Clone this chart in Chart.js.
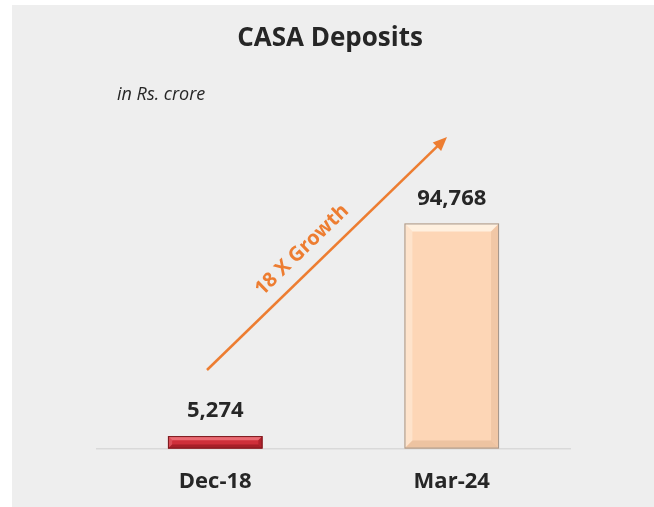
<!DOCTYPE html>
<html>
<head>
<meta charset="utf-8">
<script src="https://cdn.jsdelivr.net/npm/chart.js@4.4.1/dist/chart.umd.min.js"></script>
<style>
  html, body { margin: 0; padding: 0; background: #ffffff; }
  #wrap { width: 654px; height: 507px; }
</style>
</head>
<body>
<div id="wrap"><canvas id="casaChart" width="654" height="507"></canvas></div>
<script>
// Data
const categories = ['Dec-18', 'Mar-24'];
const casaValues = [5274, 94768];
const valueLabels = ['5,274', '94,768'];

const chartTitle = 'CASA Deposits';
const unitNote = 'in Rs. crore';
const growthNote = '18 X Growth';

const FONT = '"Open Sans", Lato, "DejaVu Sans", sans-serif';

// face / light edge / dark edge / outline per bar
const barStyles = [
    { face: '#cf2f3a', light: '#ea6a72', dark: '#8e151c', line: '#7a1a1e' },
    { face: '#fdd6b6', light: '#fff0df', dark: '#e3b592', line: '#a3968c' }
];

function bevelBar(ctx, el, st) {
    const left = el.x - el.width / 2;
    const right = el.x + el.width / 2;
    const top = el.y;
    const bottom = el.base;
    const h = bottom - top;
    const b = Math.min(8, h / 3);

    ctx.save();
    ctx.fillStyle = st.face;
    ctx.fillRect(left, top, right - left, h);

    // top edge
    ctx.fillStyle = st.light;
    ctx.beginPath();
    ctx.moveTo(left, top); ctx.lineTo(right, top);
    ctx.lineTo(right - b, top + b); ctx.lineTo(left + b, top + b);
    ctx.closePath(); ctx.fill();

    // left edge
    ctx.globalAlpha = 0.5;
    ctx.beginPath();
    ctx.moveTo(left, top); ctx.lineTo(left + b, top + b);
    ctx.lineTo(left + b, bottom - b); ctx.lineTo(left, bottom);
    ctx.closePath(); ctx.fill();

    // right edge
    ctx.globalAlpha = 0.45;
    ctx.fillStyle = st.dark;
    ctx.beginPath();
    ctx.moveTo(right, top); ctx.lineTo(right - b, top + b);
    ctx.lineTo(right - b, bottom - b); ctx.lineTo(right, bottom);
    ctx.closePath(); ctx.fill();

    // bottom edge
    ctx.globalAlpha = 0.6;
    ctx.beginPath();
    ctx.moveTo(left, bottom); ctx.lineTo(left + b, bottom - b);
    ctx.lineTo(right - b, bottom - b); ctx.lineTo(right, bottom);
    ctx.closePath(); ctx.fill();

    ctx.globalAlpha = 1;
    ctx.strokeStyle = st.line;
    ctx.lineWidth = 1;
    ctx.strokeRect(left + 0.5, top + 0.5, right - left - 1, h - 1);
    ctx.restore();
}

const panelPlugin = {
    id: 'panel',
    beforeDraw(chart) {
        const ctx = chart.ctx;
        ctx.save();
        ctx.fillStyle = '#ffffff';
        ctx.fillRect(0, 0, chart.width, chart.height);
        ctx.fillStyle = '#eeeeee';
        ctx.fillRect(12, 5, chart.width - 12, chart.height - 5);
        ctx.restore();
    }
};

const decorPlugin = {
    id: 'decor',
    afterDatasetsDraw(chart) {
        const ctx = chart.ctx;
        const meta = chart.getDatasetMeta(0);

        meta.data.forEach(function(el, i) {
            bevelBar(ctx, el, barStyles[i]);
        });

        ctx.save();
        ctx.fillStyle = '#262626';
        ctx.textAlign = 'center';
        ctx.textBaseline = 'middle';
        ctx.font = 'bold 22px ' + FONT;
        meta.data.forEach(function(el, i) {
            ctx.fillText(valueLabels[i], el.x, el.y - 25);
        });

        // title and unit note
        ctx.font = 'bold 26px ' + FONT;
        ctx.fillText(chartTitle, 330, 39);
        ctx.font = 'italic 18px ' + FONT;
        ctx.textAlign = 'left';
        ctx.fillText(unitNote, 117, 95);

        // growth arrow
        const x0 = 207, y0 = 370, x1 = 447, y1 = 137;
        const ang = Math.atan2(y1 - y0, x1 - x0);
        ctx.strokeStyle = '#ed7d31';
        ctx.fillStyle = '#ed7d31';
        ctx.lineWidth = 2.5;
        ctx.beginPath();
        ctx.moveTo(x0, y0);
        ctx.lineTo(x1 - 10 * Math.cos(ang), y1 - 10 * Math.sin(ang));
        ctx.stroke();
        ctx.beginPath();
        ctx.moveTo(x1, y1);
        ctx.lineTo(x1 - 14 * Math.cos(ang) + 6 * Math.sin(ang), y1 - 14 * Math.sin(ang) - 6 * Math.cos(ang));
        ctx.lineTo(x1 - 14 * Math.cos(ang) - 6 * Math.sin(ang), y1 - 14 * Math.sin(ang) + 6 * Math.cos(ang));
        ctx.closePath();
        ctx.fill();

        ctx.translate(302, 250);
        ctx.rotate(ang);
        ctx.textAlign = 'center';
        ctx.font = 'bold 20px ' + FONT;
        ctx.fillText(growthNote, 0, 0);
        ctx.restore();
    }
};

new Chart(document.getElementById('casaChart'), {
    type: 'bar',
    data: {
        labels: categories,
        datasets: [{
            label: 'CASA Deposits',
            data: casaValues,
            backgroundColor: 'rgba(0,0,0,0)',
            borderWidth: 0,
            categoryPercentage: 1,
            barPercentage: 0.4
        }]
    },
    options: {
        responsive: false,
        animation: false,
        layout: { padding: { left: 97, right: 84, top: 211, bottom: 0 } },
        plugins: {
            legend: { display: false },
            tooltip: { enabled: false }
        },
        scales: {
            x: {
                grid: { display: false },
                border: { color: '#d9d9d9', width: 1.5 },
                ticks: {
                    color: '#262626',
                    padding: 12,
                    font: { family: FONT, size: 22, weight: 'bold' }
                }
            },
            y: {
                display: false,
                min: 0,
                max: 100000
            }
        }
    },
    plugins: [panelPlugin, decorPlugin]
});
</script>
</body>
</html>
